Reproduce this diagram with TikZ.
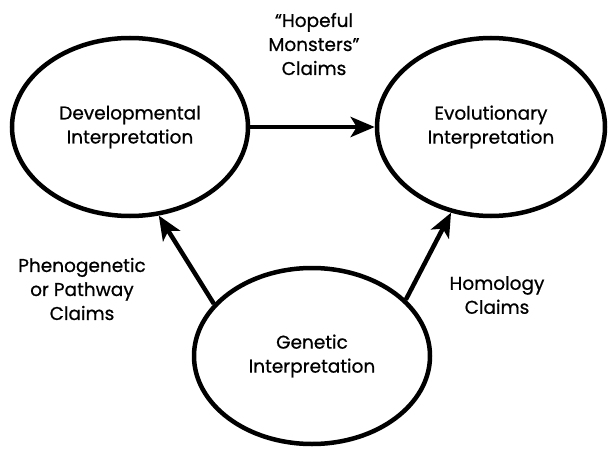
\documentclass[tikz,border=0pt]{standalone}
\usepackage{fontspec}
\setmainfont{Poppins}[FakeBold=0.7]
\usetikzlibrary{arrows.meta, shapes.geometric}

\begin{document}
\begin{tikzpicture}[x=1pt, y=-1pt,
            interp/.style={ellipse, draw, line width=4.5pt, inner sep=0pt, minimum width=236pt, minimum height=178pt, align=center, font=\fontsize{18.5}{24}\selectfont},
            lbl/.style={align=center, font=\fontsize{18.5}{24}\selectfont},
            arrow/.style={-{Stealth[length=24pt, width=20pt, inset=6pt]}, line width=4.5pt}
        ]
            \useasboundingbox (0,0) rectangle (608,452);

            \node[interp] (dev) at (130,127) {Developmental\\Interpretation};
            \node[interp, minimum width=228pt] (evo) at (491,127) {Evolutionary\\Interpretation};
            \node[interp, minimum height=176pt] (gen) at (312,356) {Genetic\\Interpretation};

            \node[lbl] (hope) at (314,44) {“Hopeful\\Monsters”\\Claims};
            \node[lbl] (pheno) at (82,289) {Phenogenetic\\or Pathway\\Claims};
            \node[lbl] (homol) at (497,295) {Homology\\Claims};

            \draw[arrow] (dev.east) -- (evo.west);
            \draw[arrow] (gen.152) -- (dev.-72);
            \draw[arrow] (gen.31) -- (evo.-115);

        \end{tikzpicture}
\end{document}
